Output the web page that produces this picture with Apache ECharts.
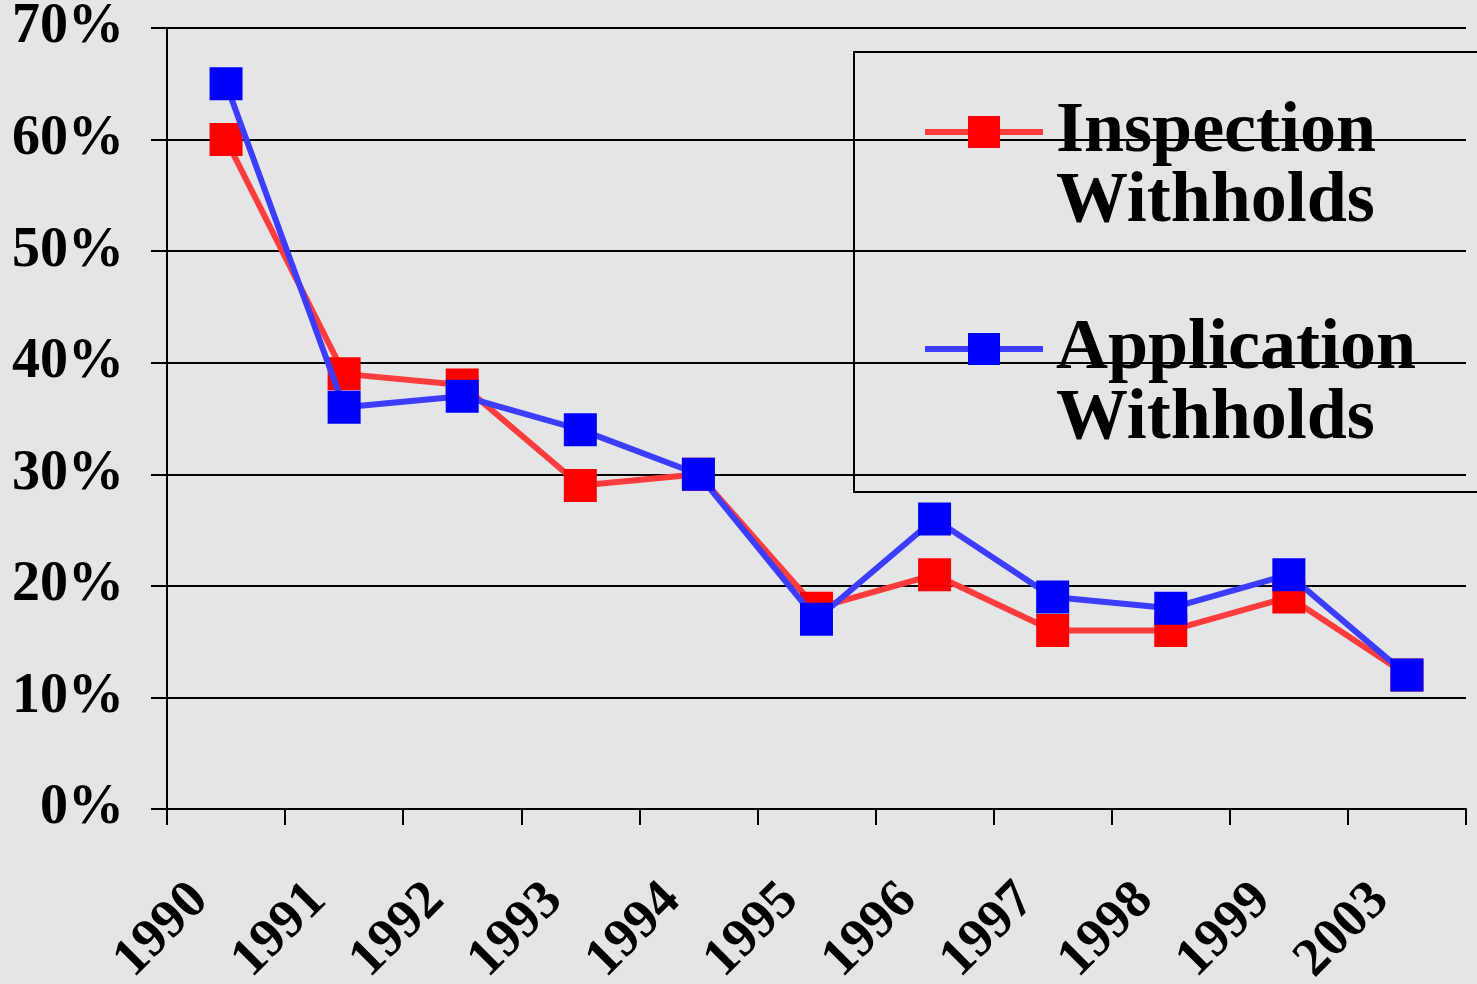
<!DOCTYPE html>
<html>
<head>
<meta charset="utf-8">
<script src="https://cdn.jsdelivr.net/npm/echarts@6/dist/echarts.min.js"></script>
<style>
html,body{margin:0;padding:0;background:#e4e5e7;}
#chart{width:1477px;height:984px;}
</style>
</head>
<body>
<div id="chart"></div>
<script>
const years = ['1990','1991','1992','1993','1994','1995','1996','1997','1998','1999','2003'];
const inspectionWithholds = [60, 39, 38, 29, 30, 18, 21, 16, 16, 19, 12];
const applicationWithholds = [65, 36, 37, 34, 30, 17, 26, 19, 18, 21, 12];
const seriesNames = ['Inspection\nWithholds', 'Application\nWithholds'];
const yTicks = { min: 0, max: 70, interval: 10 };

const serif = '"Liberation Serif","Times New Roman",serif';
const chart = echarts.init(document.getElementById('chart'), null, { renderer: 'canvas' });
chart.setOption({
  backgroundColor: '#e4e5e7',
  animation: false,
  grid: { left: 167, right: 11, top: 28, bottom: 175, outerBoundsMode: 'none', containLabel: false },
  graphic: [{
    type: 'rect', left: 853, top: 51, z: 1,
    shape: { width: 700, height: 440 },
    style: { fill: 'transparent', stroke: '#000', lineWidth: 2 }
  }],
  legend: {
    orient: 'vertical', left: 922, top: 57, padding: 0, itemGap: 36,
    itemWidth: 118, itemHeight: 40,
    data: seriesNames,
    lineStyle: { width: 6 },
    formatter: function (name) {
      return '{sp| }\n' + name.split('\n').map(function (s) { return '{b|' + s + '}'; }).join('\n');
    },
    textStyle: {
      color: '#000', padding: [0, 0, 0, 8],
      rich: {
        sp: { fontSize: 10, lineHeight: 70 },
        b: { fontFamily: serif, fontWeight: 'bold', fontSize: 72, lineHeight: 70, color: '#000' }
      }
    }
  },
  xAxis: {
    type: 'category', data: years, boundaryGap: true,
    axisLine: { lineStyle: { color: '#000', width: 2 } },
    axisTick: { show: true, length: 16, inside: false, lineStyle: { color: '#000', width: 2 } },
    axisLabel: {
      interval: 0, rotate: 45, margin: 57, padding: [0, 37, 0, 0],
      fontFamily: serif, fontWeight: 'bold', fontSize: 54, color: '#000'
    }
  },
  yAxis: {
    type: 'value', min: yTicks.min, max: yTicks.max, interval: yTicks.interval,
    axisLine: { show: true, lineStyle: { color: '#000', width: 2 } },
    axisTick: { show: true, length: 16, lineStyle: { color: '#000', width: 2 } },
    splitLine: { show: true, lineStyle: { color: '#000', width: 2 } },
    axisLabel: {
      formatter: '{value}%', margin: 43,
      fontFamily: serif, fontWeight: 'bold', fontSize: 56, color: '#000'
    }
  },
  series: [
    {
      name: seriesNames[0], type: 'line', data: inspectionWithholds,
      symbol: 'rect', symbolSize: 33, z: 3,
      lineStyle: { color: '#ff3c3c', width: 6 },
      itemStyle: { color: '#ff0000' }
    },
    {
      name: seriesNames[1], type: 'line', data: applicationWithholds,
      symbol: 'rect', symbolSize: 33, z: 4,
      lineStyle: { color: '#3c3cff', width: 6 },
      itemStyle: { color: '#0000ff' }
    }
  ]
});
</script>
</body>
</html>
